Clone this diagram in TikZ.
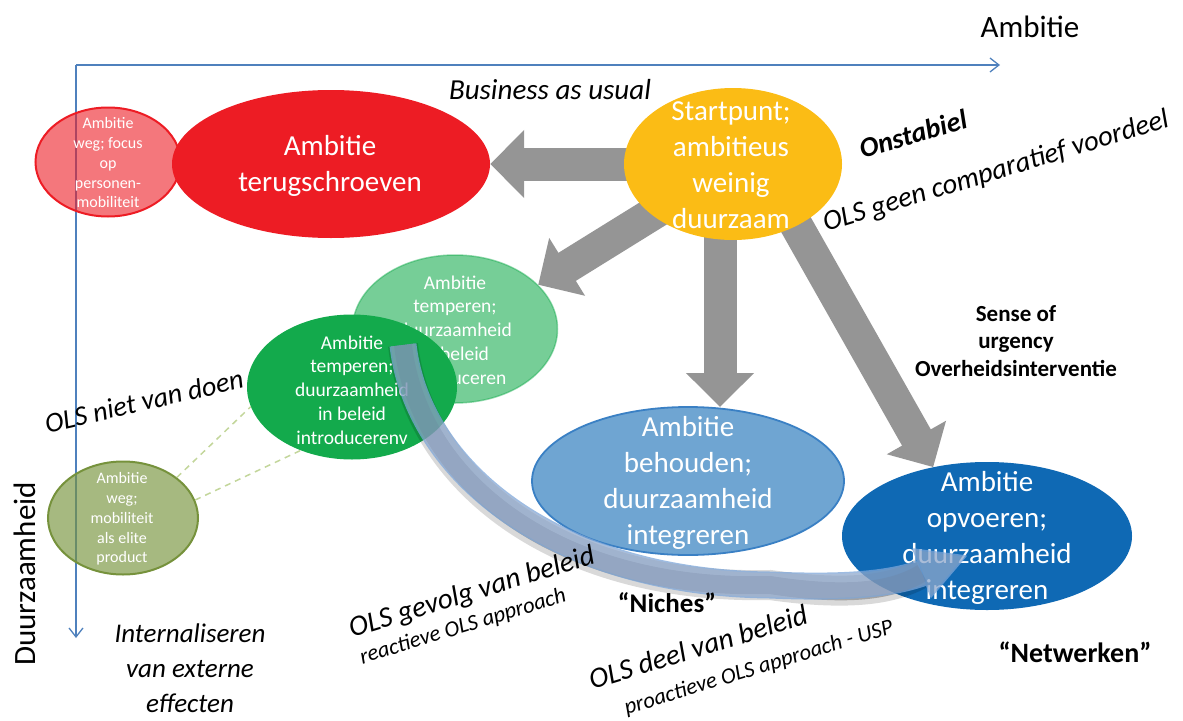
\documentclass[tikz,border=0pt]{standalone}
\usepackage{fontspec}
\setmainfont{Carlito}
\usetikzlibrary{shapes.geometric,arrows.meta,calc}

\definecolor{axisblue}{HTML}{4F81BD}
\definecolor{redA}{HTML}{ED1C24}
\definecolor{yellowA}{HTML}{FBBC15}
\definecolor{greenA}{HTML}{13AA4C}
\definecolor{oliveA}{HTML}{77933C}
\definecolor{oliveLine}{HTML}{76923C}
\definecolor{blueA}{HTML}{0F69B4}
\definecolor{blueEdge}{HTML}{3A80C4}
\definecolor{arrowgray}{HTML}{959595}
\definecolor{dashgreen}{HTML}{C3D69B}
\definecolor{bandfill}{HTML}{8FA8CC}
\definecolor{bandedge}{HTML}{7EA6D8}

\newcommand\fsz[2]{\fontsize{#1}{#2}\selectfont}
\pgfdeclarelayer{back}
\pgfsetlayers{back,main}

\begin{document}
\begin{tikzpicture}[x=1pt,y=-1pt,
  oval/.style={ellipse, inner sep=0pt},
  ovaltext/.style={text=white, align=center},
  grayarrow/.style={draw=arrowgray, line width=33pt,
    -{Triangle[width=66pt,length=34pt]}},
  axis/.style={draw=axisblue, line width=1.3pt,
    -{Straight Barb[length=9pt,width=14pt]}},
  note/.style={font=\itshape\fsz{29}{35}, align=center},
  smallnote/.style={font=\itshape\fsz{22.5}{27}},
  boldnote/.style={font=\bfseries\fsz{27}{32}, align=center},
  dashlink/.style={draw=dashgreen, line width=1.5pt, dash pattern=on 6pt off 5pt}
]
\useasboundingbox (0,0) rectangle (1183,720);

% ---------- ellipses ----------
\node[oval, fill=redA, fill opacity=0.6, draw=redA, line width=2pt,
      minimum width=145pt, minimum height=109pt] (pink) at (108,162) {};
\node[oval, fill=redA, minimum width=318pt, minimum height=148pt] (red) at (331,164) {};

\node[oval, fill=greenA, fill opacity=0.58, draw=greenA, draw opacity=0.45, line width=1.5pt,
      minimum width=205pt, minimum height=148pt] (lg) at (455,329) {};
\node[ovaltext, font=\fsz{19.5}{23.75}] (lg-t) at (455,330)
  {Ambitie\\temperen;\\duurzaamheid\\in beleid\\introduceren};

\node[oval, fill=greenA, minimum width=210pt, minimum height=145pt] (dg) at (352,387) {};
\node[ovaltext, font=\fsz{19.5}{23.75}] (dg-t) at (352,390)
  {Ambitie\\temperen;\\duurzaamheid\\in beleid\\introducerenv};

\node[oval, fill=oliveA, fill opacity=0.65, draw=oliveLine, line width=2pt,
      minimum width=150pt, minimum height=113pt] (olive) at (123,518) {};
\node[ovaltext, font=\fsz{16}{19.75}] (olive-t) at (122,519)
  {Ambitie\\weg;\\mobiliteit\\als elite\\product};

\node[oval, fill=blueA, fill opacity=0.6, draw=blueEdge, line width=1.8pt,
      minimum width=312pt, minimum height=148pt] (lb) at (688,481) {};
\node[ovaltext, font=\fsz{29}{36}] (lb-t) at (688,483)
  {Ambitie\\behouden;\\duurzaamheid\\integreren};

\node[oval, fill=blueA, minimum width=290pt, minimum height=148pt] (db) at (987,536) {};
\node[ovaltext, font=\fsz{29}{36}] (db-t) at (987,538)
  {Ambitie\\opvoeren;\\duurzaamheid\\integreren};

\node[oval, fill=yellowA, minimum width=218pt, minimum height=152pt] (yel) at (733,164) {};
\node[ovaltext, font=\fsz{29}{36}] (yel-t) at (731,165)
  {Startpunt;\\ambitieus\\weinig\\duurzaam};

\node[ovaltext, font=\fsz{16}{19.75}] (pink-t) at (108,163)
  {Ambitie\\weg; focus\\op\\personen-\\mobiliteit};
\node[ovaltext, font=\fsz{29}{36}] (red-t) at (330,166) {Ambitie\\terugschroeven};

% ---------- axes and gray arrows, underneath the ellipses ----------
\begin{pgfonlayer}{back}
  \coordinate (origin) at (76,65);
  \coordinate (xend) at (1000,65);
  \coordinate (yend) at (76,638);
  \draw[axis] (origin) -- (xend);
  \draw[axis] (origin) -- (yend);

  \draw[grayarrow] (yel.center) -- (red.east);
  \draw[grayarrow] (yel.center) -- (lg.28);
  \coordinate (c-tip) at (720,407);
  \draw[grayarrow] (c-tip |- yel.center) -- (c-tip);
  \coordinate (d-tail) at (765,170);
  \draw[grayarrow] (d-tail) -- (db.128);
\end{pgfonlayer}

% ---------- dashed links ----------
\draw[dashlink] (olive.37) -- (dg.191);
\draw[dashlink] (olive.14) -- (dg.231);

% ---------- curved transition arrow ----------
\coordinate (ctail) at (403,345);
\coordinate (cmid) at (770,585);
\coordinate (chead) at (922,573);
\coordinate (ctip) at (966,556);
\coordinate (ch1) at (913,549);
\coordinate (ch2) at (931,597);
\def\bandpath{(ctail) .. controls (418,475) and (560,583) .. (cmid)
  .. controls (840,588) and (888,585) .. (chead)}

\draw[black, opacity=0.15, line width=30pt, shift={(1,7)}] \bandpath;
\draw[black, opacity=0.25, line width=18pt, shift={(1,8)}] \bandpath;
\begin{scope}[transparency group, opacity=0.75]
  \filldraw[fill=bandfill, draw=bandedge, line width=1.5pt, line join=round]
    (ch1) -- (ctip) -- (ch2) -- cycle;
  \draw[bandedge, line width=27pt] \bandpath;
  \draw[bandfill, line width=24pt] \bandpath;
\end{scope}

% ---------- labels ----------
\node[font=\fsz{31}{36}] (lab-amb) at (1030,27) {Ambitie};
\node[font=\fsz{31}{36}, rotate=90] (lab-duu) at (25,574) {Duurzaamheid};

\node[note] (t-bau) at (550,90) {Business as usual};
\node[font=\bfseries\itshape\fsz{28}{32}, rotate=16] (t-onst) at (913,134) {Onstabiel};
\node[note, font=\itshape\fsz{28.5}{34}, rotate=17] (t-geen) at (996,172) {OLS geen comparatief voordeel};
\node[font=\bfseries\fsz{23}{27.5}, align=center] (t-sense) at (1016,341)
  {Sense of\\urgency\\Overheidsinterventie};
\node[note, font=\itshape\fsz{28}{32}, rotate=13] (t-niet) at (144,401) {OLS niet van doen};
\node[note, font=\itshape\fsz{27}{35}] (t-int) at (190,668) {Internaliseren\\van externe\\effecten};

\node[note, rotate=17] (t-gev) at (472,593) {OLS gevolg van beleid};
\node[smallnote, rotate=17] (t-rea) at (463,627) {reactieve OLS approach};
\node[boldnote] (t-niches) at (667,603) {“Niches”};
\node[note, rotate=17] (t-deel) at (698,647) {OLS deel van beleid};
\node[smallnote, rotate=17] (t-pro) at (759,668) {proactieve OLS approach - USP};
\node[boldnote, font=\bfseries\fsz{28}{32}] (t-netw) at (1075,652) {“Netwerken”};

\end{tikzpicture}
\end{document}
